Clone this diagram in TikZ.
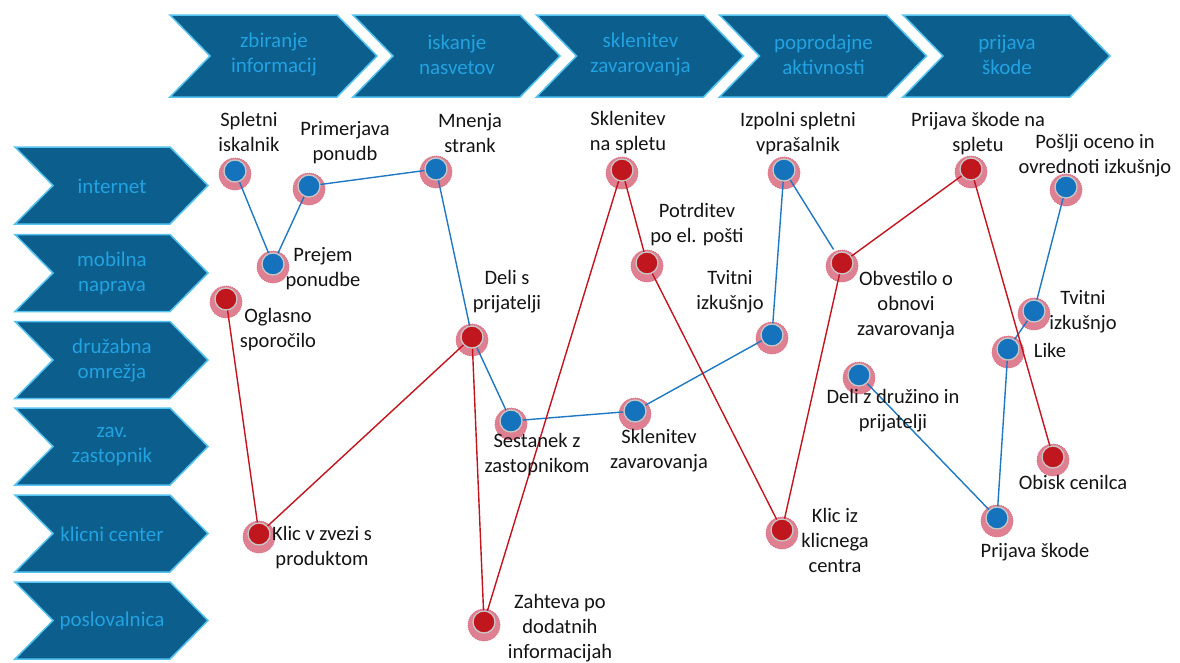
\documentclass[tikz,border=0pt]{standalone}
\usepackage{fontspec}
\setmainfont{Carlito}
\pgfdeclarelayer{bgwhite}
\pgfdeclarelayer{halo}
\pgfdeclarelayer{links}
\pgfsetlayers{bgwhite,halo,links,main}
\definecolor{chevfill}{RGB}{12,94,140}
\definecolor{chevline}{RGB}{85,195,240}
\definecolor{chevtext}{RGB}{35,162,225}
\definecolor{dotblue}{RGB}{21,114,189}
\definecolor{dotred}{RGB}{192,22,30}
\definecolor{halofill}{RGB}{222,128,146}
\definecolor{haloedge}{RGB}{222,105,125}
\definecolor{linkblue}{RGB}{30,120,195}
\definecolor{linkred}{RGB}{195,20,30}
\tikzset{
  chev/.style={fill=chevfill, draw=chevline, line width=1.5pt, line join=miter},
  chevlabel/.style={text=chevtext, font=\fontsize{21}{25}\selectfont, align=center, inner sep=0pt},
  lbl/.style={font=\fontsize{20.5}{25}\selectfont, align=center, inner sep=0pt, text=black!92},
  dotbase/.style={circle, minimum size=22pt, inner sep=0pt, draw=black!22, line width=1.3pt},
  bdot/.style={dotbase, fill=dotblue},
  rdot/.style={dotbase, fill=dotred},
  halostyle/.style={fill=halofill, draw=haloedge, line width=0.7pt, dash pattern=on 1pt off 1pt},
  bl/.style={draw=linkblue, line width=1.4pt},
  rl/.style={draw=linkred, line width=1.4pt},
}
\newcommand\mkdot[4]{%
  \node[#4] (#1) at (#2,#3) {};
  \begin{pgfonlayer}{halo}\path[halostyle] (#2,#3+3) circle[radius=16pt];\end{pgfonlayer}}
\newcommand\topchev[3]{%
  \path[chev] (#1,15) -- (#1+167,15) -- (#1+207,56) -- (#1+167,97) -- (#1,97) -- (#1+40,56) -- cycle;
  \node[chevlabel] (#2) at (#1+104,55) {#3};}
\newcommand\leftchev[3]{%
  \path[chev] (15,#1) -- (170,#1) -- (208,#1+38.5) -- (170,#1+77) -- (15,#1+77) -- (53,#1+38.5) -- cycle;
  \node[chevlabel] (#2) at (112,#1+39) {#3};}
\begin{document}
\begin{tikzpicture}[x=1pt,y=-1pt]
\begin{pgfonlayer}{bgwhite}
\fill[white] (0,0) rectangle (1180,662);
\end{pgfonlayer}
\useasboundingbox (0,0) rectangle (1180,662);
% top phases
\topchev{170}{t1}{zbiranje\\informacij}
\topchev{353}{t2}{iskanje\\nasvetov}
\topchev{536.5}{t3}{sklenitev\\zavarovanja}
\topchev{719.5}{t4}{poprodajne\\aktivnosti}
\topchev{903}{t5}{prijava\\škode}
% channels
\leftchev{147}{c1}{internet}
\leftchev{234.5}{c2}{mobilna\\naprava}
\leftchev{321.5}{c3}{družabna\\omrežja}
\leftchev{408}{c4}{zav.\\zastopnik}
\leftchev{495}{c5}{klicni center}
\leftchev{582}{c6}{poslovalnica}
% blue dots
\mkdot{sp}{235}{171}{bdot}
\mkdot{pp}{309}{186}{bdot}
\mkdot{ms}{436}{169}{bdot}
\mkdot{pr}{273}{264}{bdot}
\mkdot{ss}{511}{421}{bdot}
\mkdot{sz}{635}{411}{bdot}
\mkdot{tva}{772}{335}{bdot}
\mkdot{iz}{784}{170}{bdot}
\mkdot{dd}{859}{375}{bdot}
\mkdot{po}{1066}{187}{bdot}
\mkdot{tvb}{1034}{311}{bdot}
\mkdot{lk}{1008}{349}{bdot}
\mkdot{ps}{997}{518}{bdot}
% red dots
\mkdot{og}{226}{299}{rdot}
\mkdot{kv}{259}{534}{rdot}
\mkdot{dp}{472}{337}{rdot}
\mkdot{za}{484}{622}{rdot}
\mkdot{sn}{622}{170}{rdot}
\mkdot{pt}{647}{263}{rdot}
\mkdot{kk}{782}{530}{rdot}
\mkdot{ob}{842}{263}{rdot}
\mkdot{pn}{971}{169}{rdot}
\mkdot{oc}{1053}{457}{rdot}
% links
\begin{pgfonlayer}{links}
\draw[bl] (sp.center) -- (pr.center) -- (pp.center) -- (ms.center) -- (dp.center) -- (ss.center) -- (sz.center) -- (tva.center) -- (iz.center);
\draw[bl, shorten >=16pt] (iz.center) -- (ob.center);
\draw[bl] (dd.center) -- (ps.center) -- (lk.center) -- (tvb.center) -- (po.center);
\draw[rl] (og.center) -- (kv.center) -- (dp.center) -- (za.center) -- (sn.center) -- (pt.center) -- (kk.center) -- (ob.center) -- (pn.center) -- (oc.center);
\end{pgfonlayer}
% labels
\node[lbl] (l1) at (249,132) {Spletni\\iskalnik};
\node[lbl] (l2) at (345,143) {Primerjava\\ponudb};
\node[lbl] (l3) at (470,133) {Mnenja\\strank};
\node[lbl] (l4) at (323,269) {Prejem\\ponudbe};
\node[lbl] (l5) at (278,330) {Oglasno\\sporočilo};
\node[lbl] (l6) at (507,292) {Deli s\\prijatelji};
\node[lbl] (l7) at (537,455) {Sestanek z\\zastopnikom};
\node[lbl] (l8) at (659,451) {Sklenitev\\zavarovanja};
\node[lbl] (l9) at (628,133) {Sklenitev\\na spletu};
\node[lbl] (l10) at (697,225) {Potrditev\\po el. pošti};
\node[lbl] (l11) at (730,292) {Tvitni\\izkušnjo};
\node[lbl] (l12) at (798,134) {Izpolni spletni\\vprašalnik};
\node[lbl] (l13) at (906,305) {Obvestilo o\\obnovi\\zavarovanja};
\node[lbl] (l14) at (893,411) {Deli z družino in\\prijatelji};
\node[lbl] (l15) at (835,540) {Klic iz\\klicnega\\centra};
\node[lbl] (l16) at (978,134) {Prijava škode na\\spletu};
\node[lbl] (l17) at (1095,156) {Pošlji oceno in\\ovrednoti izkušnjo};
\node[lbl] (l18) at (1083,312) {Tvitni\\izkušnjo};
\node[lbl] (l19) at (1050,350) {Like};
\node[lbl] (l20) at (1073,482) {Obisk cenilca};
\node[lbl] (l21) at (1035,552) {Prijava škode};
\node[lbl] (l22) at (322,548) {Klic v zvezi s\\produktom};
\node[lbl] (l23) at (560,628) {Zahteva po\\dodatnih\\informacijah};
\end{tikzpicture}
\end{document}
